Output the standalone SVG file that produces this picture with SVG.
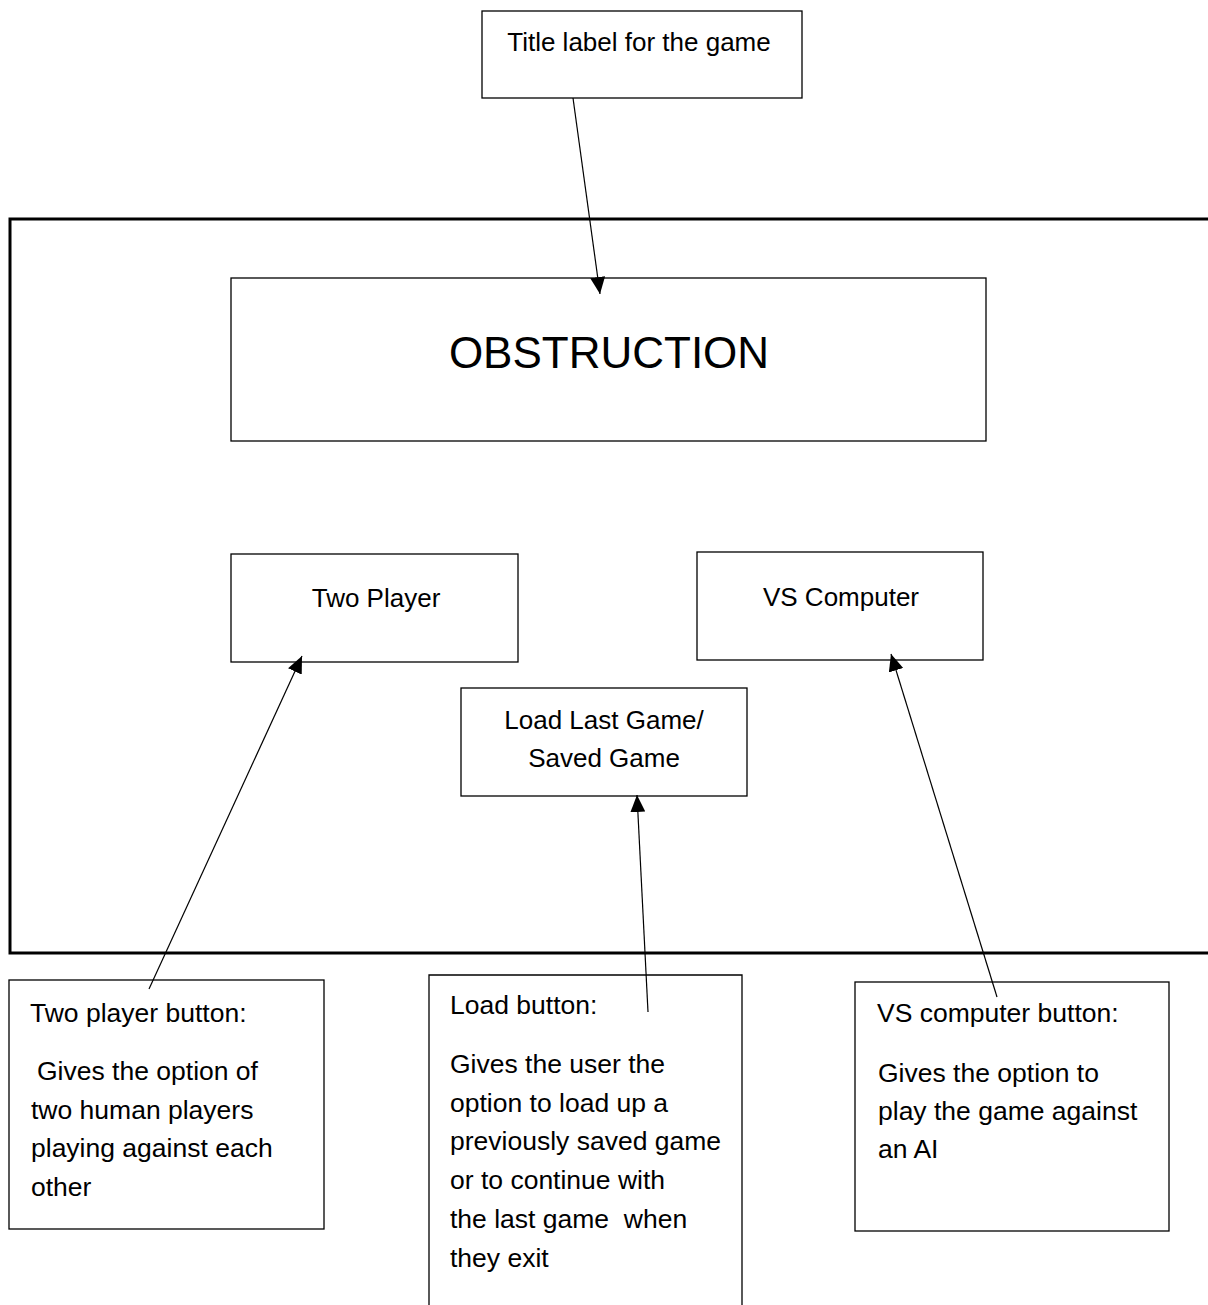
<svg xmlns="http://www.w3.org/2000/svg" width="1208" height="1305" viewBox="0 0 1208 1305">
  <style>
    .box { fill: #ffffff; stroke: #000000; stroke-width: 1.3; }
    .frame { fill: none; stroke: #000000; stroke-width: 3; }
    .link { fill: none; stroke: #000000; stroke-width: 1.2; marker-end: url(#head); }
    text { font-family: "Liberation Sans", Arial, sans-serif; fill: #000000; }
    .lbl { font-size: 26px; }
    .note { font-size: 26.5px; }
    .big { font-size: 44px; }
    .mid { text-anchor: middle; }
  </style>
  <defs>
    <marker id="head" markerUnits="userSpaceOnUse" markerWidth="17" markerHeight="15" refX="17" refY="7.5" orient="auto">
      <path d="M0,0 L17,7.5 L0,15 Z" fill="#000000"/>
    </marker>
  </defs>

  <rect width="1208" height="1305" fill="#ffffff"/>

  <!-- main menu window outline (runs off the right edge) -->
  <path class="frame" d="M1212,219 H10 V953 H1212"/>

  <g id="title-note">
    <rect class="box" x="482" y="11" width="320" height="87"/>
    <text class="lbl mid" x="639" y="51">Title label for the game</text>
  </g>

  <g id="title">
    <rect class="box" x="231" y="278" width="755" height="163"/>
    <text class="big mid" x="609" y="368">OBSTRUCTION</text>
  </g>

  <g id="two-player">
    <rect class="box" x="231" y="554" width="287" height="108"/>
    <text class="lbl mid" x="376" y="607">Two Player</text>
  </g>

  <g id="vs-computer">
    <rect class="box" x="697" y="552" width="286" height="108"/>
    <text class="lbl mid" x="841" y="606">VS Computer</text>
  </g>

  <g id="load-game">
    <rect class="box" x="461" y="688" width="286" height="108"/>
    <text class="lbl mid" x="604" y="729">Load Last Game/</text>
    <text class="lbl mid" x="604" y="767">Saved Game</text>
  </g>

  <g id="two-player-note">
    <rect class="box" x="9" y="980" width="315" height="249"/>
    <text class="note" x="30" y="1022">Two player button:</text>
    <text class="note" x="37" y="1080">Gives the option of</text>
    <text class="note" x="31" y="1119">two human players</text>
    <text class="note" x="31" y="1157">playing against each</text>
    <text class="note" x="31" y="1196">other</text>
  </g>

  <g id="load-note">
    <path class="box" d="M429,1310 V975 H742 V1310"/>
    <text class="note" x="450" y="1014">Load button:</text>
    <text class="note" x="450" y="1073">Gives the user the</text>
    <text class="note" x="450" y="1112">option to load up a</text>
    <text class="note" x="450" y="1150">previously saved game</text>
    <text class="note" x="450" y="1189">or to continue with</text>
    <text class="note" x="450" y="1228" xml:space="preserve">the last game  when</text>
    <text class="note" x="450" y="1267">they exit</text>
  </g>

  <g id="vs-computer-note">
    <rect class="box" x="855" y="982" width="314" height="249"/>
    <text class="note" x="877" y="1022">VS computer button:</text>
    <text class="note" x="878" y="1082">Gives the option to</text>
    <text class="note" x="878" y="1120">play the game against</text>
    <text class="note" x="878" y="1158">an AI</text>
  </g>

  <g id="connectors">
    <line class="link" x1="573" y1="98" x2="600" y2="294"/>
    <line class="link" x1="149" y1="989" x2="302" y2="656"/>
    <line class="link" x1="648" y1="1012" x2="637" y2="795"/>
    <line class="link" x1="997" y1="997" x2="891" y2="654"/>
  </g>
</svg>
